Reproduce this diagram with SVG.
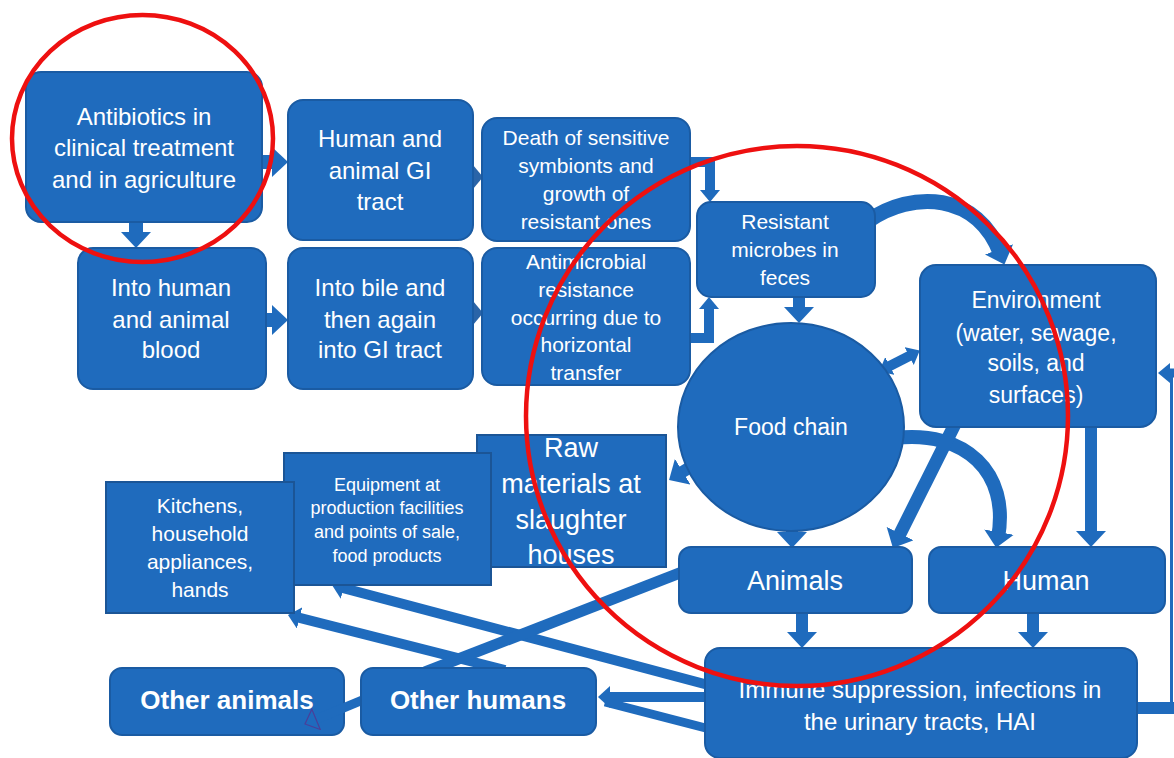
<svg xmlns="http://www.w3.org/2000/svg" width="1174" height="758" viewBox="0 0 1174 758">
  <style>
    .box { fill: #1f6bbd; stroke: #1a5ba3; stroke-width: 2; }
    .sq { fill: #1f6bbd; stroke: #1b5596; stroke-width: 2; }
    .t { font-family: "Liberation Sans", Arial, sans-serif; fill: #ffffff; text-anchor: middle; }
    .b { font-weight: bold; }
    .c { fill: none; stroke: #1f6bbd; stroke-linecap: butt; stroke-linejoin: miter; }
    .tiny { fill: #2a64a8; }
    .ring { fill: none; stroke: #ee1010; stroke-width: 4.5; }
  </style>
  <defs>
    <marker id="ah" viewBox="0 0 16 30" markerWidth="16" markerHeight="30" refX="6" refY="15" markerUnits="userSpaceOnUse" orient="auto">
      <path d="M0,0 L16,15 L0,30 Z" fill="#1f6bbd"/>
    </marker>
    <marker id="am" viewBox="0 0 12 20" markerWidth="12" markerHeight="20" refX="4" refY="10" markerUnits="userSpaceOnUse" orient="auto-start-reverse">
      <path d="M0,0 L12,10 L0,20 Z" fill="#1f6bbd"/>
    </marker>
    <marker id="as" viewBox="0 0 12 22" markerWidth="12" markerHeight="22" refX="3" refY="11" markerUnits="userSpaceOnUse" orient="auto">
      <path d="M0,0 L12,11 L0,22 Z" fill="#1f6bbd"/>
    </marker>
    <marker id="ao" viewBox="-1 -1 14 24" markerWidth="14" markerHeight="24" refX="3" refY="11" markerUnits="userSpaceOnUse" orient="auto">
      <path d="M0,0 L12,11 L0,22 Z" fill="#1f6bbd" stroke="#4a3f9a" stroke-width="1.2"/>
    </marker>
  </defs>

  <rect width="1174" height="758" fill="#ffffff"/>

  <!-- drawn first so the arrow from Other humans lies on top of it -->
  <g id="other-animals">
    <rect class="box" x="110" y="668" width="234" height="67" rx="12"/>
    <text class="t b" x="227" y="709" font-size="26">Other animals</text>
  </g>

  <g id="connectors">
    <!-- top rows -->
    <line class="c" x1="136" y1="222" x2="136" y2="238" stroke-width="14" marker-end="url(#ah)"/>
    <line class="c" x1="261" y1="162" x2="278" y2="162" stroke-width="14" marker-end="url(#ah)"/>
    <line class="c" x1="266" y1="320" x2="278" y2="320" stroke-width="14" marker-end="url(#ah)"/>
    <path class="tiny" d="M473,165 L483,177 L473,189 Z"/>
    <path class="tiny" d="M473,301 L483,313 L473,325 Z"/>
    <path class="c" d="M690,162 H710 V194" stroke-width="10" marker-end="url(#am)"/>
    <path class="c" d="M690,338 H709 V305" stroke-width="10" marker-end="url(#am)"/>
    <!-- around the food chain -->
    <line class="c" x1="799" y1="297" x2="799" y2="313" stroke-width="12" marker-end="url(#ah)"/>
    <path class="c" d="M868,221 C912,190 978,192 1001,255" stroke-width="15" marker-end="url(#ah)"/>
    <line class="c" x1="886.3" y1="367.8" x2="912.7" y2="354.2" stroke-width="10" marker-start="url(#am)" marker-end="url(#am)"/>
    <line class="c" x1="697" y1="463" x2="677.6" y2="474.8" stroke-width="12" marker-end="url(#ah)"/>
    <line class="c" x1="792" y1="528" x2="792" y2="538" stroke-width="12" marker-end="url(#ah)"/>
    <path class="c" d="M895,438 C965,430 1010,472 998,538" stroke-width="14" marker-end="url(#ah)"/>
    <line class="c" x1="955" y1="424" x2="897.4" y2="539" stroke-width="13" marker-end="url(#ah)"/>
    <line class="c" x1="1091" y1="427" x2="1091" y2="537" stroke-width="12" marker-end="url(#ah)"/>
    <line class="c" x1="802" y1="613" x2="802" y2="638" stroke-width="12" marker-end="url(#ah)"/>
    <line class="c" x1="1033" y1="613" x2="1033" y2="638" stroke-width="12" marker-end="url(#ah)"/>
    <!-- loop back along the right edge -->
    <line class="c" x1="1130" y1="708" x2="1174" y2="708" stroke-width="12"/>
    <line class="c" x1="1171.5" y1="372" x2="1171.5" y2="714" stroke-width="3"/>
    <line class="c" x1="1176" y1="373" x2="1166" y2="373" stroke-width="9" marker-end="url(#am)"/>
    <!-- lower left -->
    <line class="c" x1="712" y1="686" x2="340.7" y2="587.3" stroke-width="10" marker-end="url(#as)"/>
    <line class="c" x1="505" y1="670" x2="296.7" y2="617.2" stroke-width="10" marker-end="url(#as)"/>
    <line class="c" x1="690" y1="569" x2="425" y2="672" stroke-width="11"/>
    <line class="c" x1="725" y1="733" x2="605" y2="702" stroke-width="9"/>
    <line class="c" x1="712" y1="697" x2="607" y2="697" stroke-width="10" marker-end="url(#as)"/>
    <line class="c" x1="365" y1="699" x2="313.3" y2="720.5" stroke-width="9" marker-end="url(#ao)"/>
  </g>

  <g id="antibiotics">
    <rect class="box" x="26" y="72" width="236" height="150" rx="15" stroke="#2c4fa0"/>
    <text class="t" x="144" font-size="24"><tspan x="144" y="125">Antibiotics in</tspan><tspan x="144" y="156">clinical treatment</tspan><tspan x="144" y="188">and in agriculture</tspan></text>
  </g>

  <g id="gi-tract">
    <rect class="box" x="288" y="100" width="185" height="140" rx="15"/>
    <text class="t" font-size="24"><tspan x="380" y="147">Human and</tspan><tspan x="380" y="179">animal GI</tspan><tspan x="380" y="210">tract</tspan></text>
  </g>

  <g id="death-of-symbionts">
    <rect class="box" x="482" y="118" width="208" height="123" rx="15"/>
    <text class="t" font-size="21"><tspan x="586" y="145">Death of sensitive</tspan><tspan x="586" y="173">symbionts and</tspan><tspan x="586" y="201">growth of</tspan><tspan x="586" y="229">resistant ones</tspan></text>
  </g>

  <g id="blood">
    <rect class="box" x="78" y="248" width="188" height="141" rx="15"/>
    <text class="t" font-size="24"><tspan x="171" y="296">Into human</tspan><tspan x="171" y="328">and animal</tspan><tspan x="171" y="358">blood</tspan></text>
  </g>

  <g id="bile">
    <rect class="box" x="288" y="248" width="185" height="141" rx="15"/>
    <text class="t" font-size="24"><tspan x="380" y="296">Into bile and</tspan><tspan x="380" y="328">then again</tspan><tspan x="380" y="358">into GI tract</tspan></text>
  </g>

  <g id="horizontal-transfer">
    <rect class="box" x="482" y="248" width="208" height="137" rx="15"/>
    <text class="t" font-size="21"><tspan x="586" y="269">Antimicrobial</tspan><tspan x="586" y="297">resistance</tspan><tspan x="586" y="325">occurring due to</tspan><tspan x="586" y="352">horizontal</tspan><tspan x="586" y="380">transfer</tspan></text>
  </g>

  <g id="feces">
    <rect class="box" x="697" y="202" width="178" height="95" rx="14"/>
    <text class="t" font-size="21"><tspan x="785" y="229">Resistant</tspan><tspan x="785" y="257">microbes in</tspan><tspan x="785" y="285">feces</tspan></text>
  </g>

  <g id="environment">
    <rect class="box" x="920" y="265" width="236" height="162" rx="16"/>
    <text class="t" font-size="23"><tspan x="1036" y="308">Environment</tspan><tspan x="1036" y="341">(water, sewage,</tspan><tspan x="1036" y="371">soils, and</tspan><tspan x="1036" y="403">surfaces)</tspan></text>
  </g>

  <g id="food-chain">
    <ellipse class="box" cx="791" cy="427" rx="113" ry="104"/>
    <text class="t" x="791" y="435" font-size="23">Food chain</text>
  </g>

  <g id="raw-materials">
    <rect class="sq" x="477" y="435" width="189" height="132"/>
    <text class="t" font-size="27"><tspan x="571" y="457">Raw</tspan><tspan x="571" y="493">materials at</tspan><tspan x="571" y="529">slaughter</tspan><tspan x="571" y="564">houses</tspan></text>
  </g>

  <g id="equipment">
    <rect class="sq" x="284" y="453" width="207" height="132"/>
    <text class="t" font-size="18"><tspan x="387" y="491">Equipment at</tspan><tspan x="387" y="514">production facilities</tspan><tspan x="387" y="538">and points of sale,</tspan><tspan x="387" y="562">food products</tspan></text>
  </g>

  <g id="kitchens">
    <rect class="sq" x="106" y="482" width="188" height="131"/>
    <text class="t" font-size="21"><tspan x="200" y="513">Kitchens,</tspan><tspan x="200" y="541">household</tspan><tspan x="200" y="569">appliances,</tspan><tspan x="200" y="597">hands</tspan></text>
  </g>

  <g id="animals">
    <rect class="box" x="679" y="547" width="233" height="66" rx="12"/>
    <text class="t" x="795" y="590" font-size="27">Animals</text>
  </g>

  <g id="human">
    <rect class="box" x="929" y="547" width="236" height="66" rx="12"/>
    <text class="t" x="1046" y="590" font-size="27">Human</text>
  </g>

  <g id="infections">
    <rect class="box" x="705" y="648" width="432" height="110" rx="15"/>
    <text class="t" font-size="24"><tspan x="920" y="698">Immune suppression, infections in</tspan><tspan x="920" y="730">the urinary tracts, HAI</tspan></text>
  </g>

  <g id="other-humans">
    <rect class="box" x="361" y="668" width="235" height="67" rx="12"/>
    <text class="t b" x="478" y="709" font-size="26">Other humans</text>
  </g>

  <!-- red rings drawn over the chart -->
  <g id="highlights">
    <ellipse class="ring" cx="142.5" cy="138.5" rx="130.5" ry="123.5"/>
    <ellipse class="ring" cx="797" cy="416" rx="271" ry="270"/>
  </g>
</svg>
